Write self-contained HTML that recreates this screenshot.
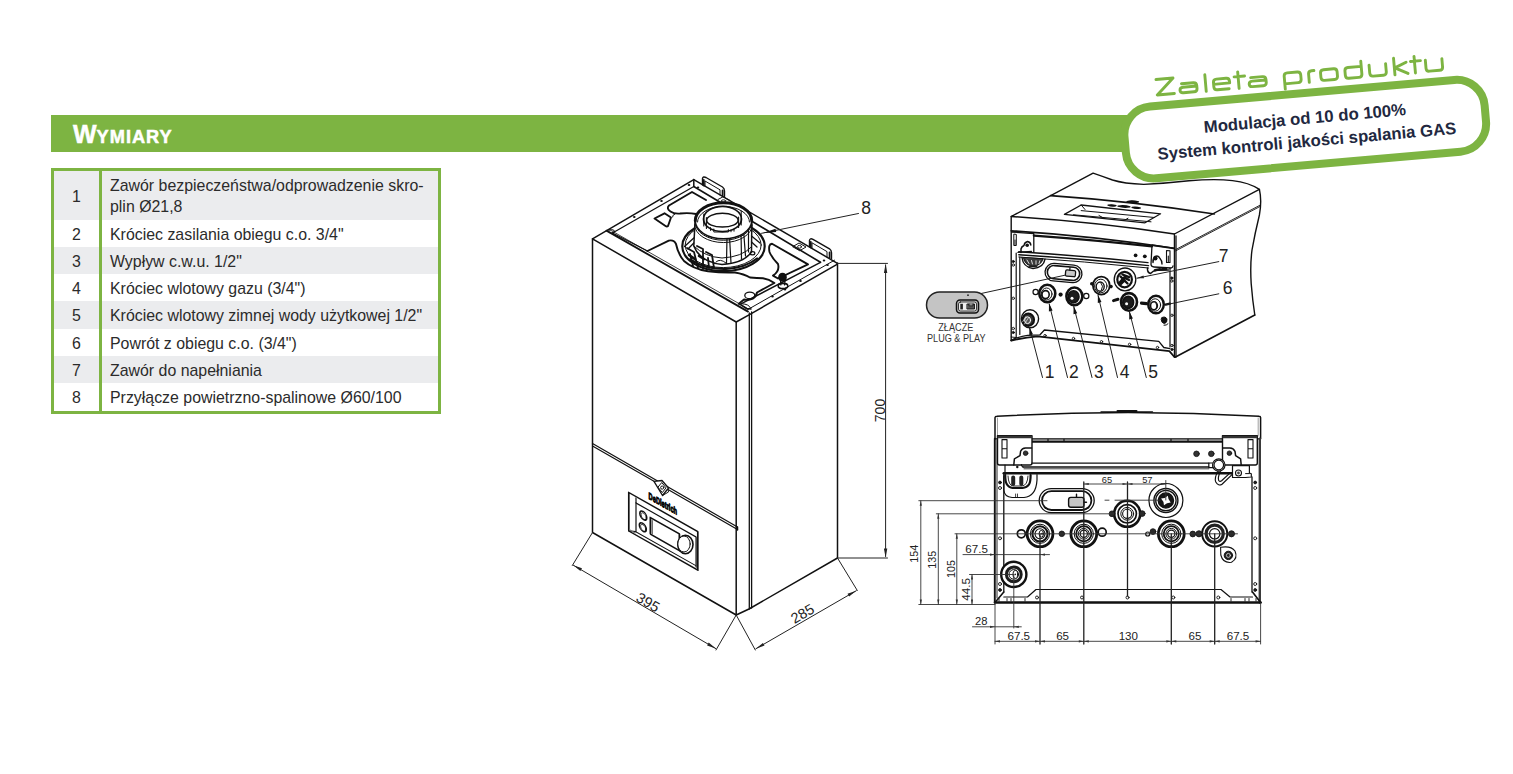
<!DOCTYPE html>
<html><head><meta charset="utf-8">
<style>
html,body{margin:0;padding:0;background:#fff;}
body{width:1513px;height:774px;position:relative;overflow:hidden;font-family:"Liberation Sans",sans-serif;}
#bar{position:absolute;left:51px;top:114.5px;width:1090px;height:37.7px;background:#7db442;}
#title{position:absolute;left:73px;top:114.5px;height:38px;line-height:38px;color:#fff;font-weight:700;white-space:nowrap;-webkit-text-stroke:0.5px #fff;}
#title .b{font-size:25px;}
#title .s{font-size:18.2px;letter-spacing:1.0px;}
#tbl{position:absolute;left:51px;top:168px;width:390px;height:245.5px;box-sizing:border-box;border:3px solid #7db442;}
.row{position:absolute;left:0;width:384px;height:27.3px;}
.row.g{background:#ebecee;}
.row .n{position:absolute;left:0;width:45px;text-align:center;font-size:15.9px;color:#2b2b2b;top:1px;line-height:27.3px;}
.row .t{position:absolute;left:56px;top:1px;font-size:15.9px;color:#2b2b2b;line-height:27.3px;white-space:nowrap;}
#vd{position:absolute;left:45px;top:0;width:3px;height:239.5px;background:#7db442;}
svg{position:absolute;left:0;top:0;}
text{font-family:"Liberation Sans",sans-serif;}
</style></head><body>
<div id="bar"></div>
<div id="title"><span class="b">W</span><span class="s">YMIARY</span></div>
<div id="tbl">
 <div class="row g" style="top:0;height:48.5px"><div class="n" style="line-height:48.5px;top:1.5px">1</div><div class="t" style="line-height:21px;top:4px">Zawór bezpieczeństwa/odprowadzenie skro-<br>plin Ø21,8</div></div>
 <div class="row" style="top:48.5px"><div class="n">2</div><div class="t">Króciec zasilania obiegu c.o. 3/4"</div></div>
 <div class="row g" style="top:75.8px"><div class="n">3</div><div class="t">Wypływ c.w.u. 1/2"</div></div>
 <div class="row" style="top:103.1px"><div class="n">4</div><div class="t">Króciec wlotowy gazu (3/4")</div></div>
 <div class="row g" style="top:130.4px"><div class="n">5</div><div class="t">Króciec wlotowy zimnej wody użytkowej 1/2"</div></div>
 <div class="row" style="top:157.7px"><div class="n">6</div><div class="t">Powrót z obiegu c.o. (3/4")</div></div>
 <div class="row g" style="top:185px"><div class="n">7</div><div class="t">Zawór do napełniania</div></div>
 <div class="row" style="top:212.3px"><div class="n">8</div><div class="t">Przyłącze powietrzno-spalinowe Ø60/100</div></div>
 <div id="vd"></div>
</div>
<svg id="art" width="1513" height="774" viewBox="0 0 1513 774">
<!-- BANNER -->
<g id="banner" transform="translate(1306.5 129) rotate(-5)">
  <rect x="-182" y="-36" width="361.5" height="72" rx="28" ry="28" fill="#fff" stroke="#7db442" stroke-width="8"/>
  <text x="-0.7" y="-5.2" text-anchor="middle" font-size="16.75" font-weight="700" fill="#222840">Modulacja od 10 do 100%</text>
  <text x="-0.7" y="17.8" text-anchor="middle" font-size="16.75" font-weight="700" fill="#222840">System kontroli jakości spalania GAS</text>
</g>
<!-- ZALETA -->
<g id="zaleta" transform="translate(1156 96.4) rotate(-5)" fill="none" stroke="#7db442" stroke-width="2.9" stroke-linecap="round" stroke-linejoin="round"><path d="M1.45,-16.8 H18.55 L1.45,-1.3 H18.55 M26.45,-10.4 H38.349999999999994 Q41.55,-10.4 41.55,-7.2 V-4.5 Q41.55,-1.3 38.349999999999994,-1.3 H27.65 Q24.45,-1.3 24.45,-3.9000000000000004 Q24.45,-6.8 27.65,-6.8 H41.55 M50.5,-17.3 V-0.7000000000000001 M58.45,-7.0 H74.55 V-8.8 Q74.55,-12.0 71.35,-12.0 H61.650000000000006 Q58.45,-12.0 58.45,-8.8 V-4.5 Q58.45,-1.3 61.650000000000006,-1.3 H73.55 M83.5,-17.3 V-0.7000000000000001 M79.5,-12.6 H90 M95.95,-10.4 H107.85 Q111.05,-10.4 111.05,-7.2 V-4.5 Q111.05,-1.3 107.85,-1.3 H97.15 Q93.95,-1.3 93.95,-3.9000000000000004 Q93.95,-6.8 97.15,-6.8 H111.05 M129.45,4.0 V-8.8 Q129.45,-12.0 132.64999999999998,-12.0 H142.85000000000002 Q146.05,-12.0 146.05,-8.8 V-4.5 Q146.05,-1.3 142.85000000000002,-1.3 H129.45 M153.95,-0.7000000000000001 V-8.8 Q153.95,-12.0 157.14999999999998,-12.0 H159.55 M169.14999999999998,-12.0 H179.35000000000002 Q182.55,-12.0 182.55,-8.8 V-4.5 Q182.55,-1.3 179.35000000000002,-1.3 H169.14999999999998 Q165.95,-1.3 165.95,-4.5 V-8.8 Q165.95,-12.0 169.14999999999998,-12.0 Z M207.05,-17.3 V-4.5 Q207.05,-1.3 203.85000000000002,-1.3 H193.64999999999998 Q190.45,-1.3 190.45,-4.5 V-8.8 Q190.45,-12.0 193.64999999999998,-12.0 H207.05 M214.95,-12.6 V-4.5 Q214.95,-1.3 218.14999999999998,-1.3 H228.35000000000002 Q231.55,-1.3 231.55,-4.5 V-12.6 M239.95,-17.3 V-0.7000000000000001 M252.05,-12.3 L240.45,-7.6 L253.05,-0.9 M260.5,-17.3 V-0.7000000000000001 M256.5,-12.6 H266.5 M271.45,-12.6 V-4.5 Q271.45,-1.3 274.65,-1.3 H284.85 Q288.05,-1.3 288.05,-4.5 V-12.6"/></g>
<!-- ISO -->
<g id="iso" fill="none" stroke="#111" stroke-width="1.5" stroke-linecap="round" stroke-linejoin="round">
 <!-- main body -->
 <path d="M592.5,238.8 V532.5 L736.2,615 V322 Z"/>
 <path d="M736.2,615 L749,609 L837.5,558 V263"/>
 <path d="M749.3,313 V609 M751.6,312 V608" stroke-width="1.3"/>
 <!-- top outer edges -->
 <path d="M592.5,238.8 L693.8,179.6 L836.6,262.8"/>
 <path d="M736.2,322 L749.5,314.6 L836.6,264.6"/>
 <path d="M746.5,310.3 L834.5,260.2" stroke-width="1"/>
 <!-- cover top inner edge (double) -->
 <path d="M606.5,230.6 L748,311.6" stroke-width="1.8"/>
 <path d="M609.5,229.6 L748.5,309" stroke-width="0.8"/>
 <!-- back rail double -->
 <path d="M693.8,186.5 L820.5,262.3" stroke-width="1.6"/>
 <path d="M693.8,179.6 V186.5"/>
 <!-- left rail inner -->
 <path d="M606.5,230.6 L693.8,179.6" stroke-width="0"/>
 <path d="M612.5,233 L693.8,186.5" stroke-width="1.3"/>
 <!-- inner right flange line -->
 <path d="M740,304.4 L820.5,262.3" stroke-width="1.4"/>
 <path d="M740,304.4 L746.5,308.5 L751,309"/>
 <!-- plate cutouts : left/back outline -->
 <path d="M669,205.5 L692,192 L706,200 M669,205.5 Q666,208.5 670.5,211.5 Q674,214 680,213.5 Q689,212.5 696,214" stroke-width="1.9"/>
 <path d="M654.5,218.5 L664.5,213.3 L671,217.5 L668,226 Q667,227 665.5,226 Z" stroke-width="1.9"/>
 <path d="M672.5,217 Q672,215 675,214" stroke-width="1"/>
 <!-- front-left wavy outline -->
 <path d="M647.5,251 L668.8,240.6 Q674,239.5 676,244 Q678,254 684,261 Q693,269 708,271.3 Q722,273 735,272.5 Q744,274 750,277.5 Q757,278 763,278.2 Q769,279 774.4,283 L757,292.5 Q756.5,296 753,298.5 Q748,300.5 744,299.5 L738.8,303.8" stroke-width="1.9"/>
 <path d="M612.5,233 L647.5,251" stroke-width="1.3"/>
 <!-- right cutout -->
 <path d="M772,243.7 Q768,244 769.5,252 Q772,258 778,264 Q780,271 773,275.6 L778,278.5 L808,264.4 L772,243.7 Z" stroke-width="1.9"/>
 <path d="M761.5,233.5 L808,260" stroke-width="0"/>
 <!-- small ellipse hole -->
 <ellipse cx="749.8" cy="295.4" rx="5" ry="3.3" stroke-width="1.3"/>
 <!-- tab with hole on back rail -->
 <path d="M793,246.5 L799,243 L806,247 L800,250.5 Z" stroke-width="1"/>
 <ellipse cx="799.5" cy="246.8" rx="2" ry="1.4" stroke-width="0.9"/>
 <path d="M718,199.5 L723,196.8 L730,200.5" stroke-width="1"/>
 <ellipse cx="723.5" cy="201" rx="2.2" ry="1.2" stroke-width="0.9"/>
 <!-- brackets -->
 <g stroke-width="1.4">
  <path d="M702.5,185 V178.5 Q703,176 706,177.5 L722.5,187 Q724.5,188.5 724.5,191 V196.5"/>
  <path d="M705,186 V181 L720,189.8 V195" stroke-width="1"/>
  <path d="M703.8,180 V185.6 M722.6,190.5 V196" stroke-width="1.8"/>
  <path d="M809.5,246.8 V240.3 Q810,237.8 813,239.3 L829.5,248.8 Q831.5,250.3 831.5,252.8 V258.5"/>
  <path d="M812,247.8 V242.8 L827,251.6 V256.8" stroke-width="1"/>
  <path d="M810.8,241.8 V247.4 M829.6,252.3 V257.8" stroke-width="1.8"/>
 </g>
 <!-- screws -->
 <g fill="#111" stroke="none">
  <ellipse cx="634.3" cy="217" rx="1.3" ry="0.9"/><ellipse cx="661.5" cy="201" rx="1.3" ry="0.9"/><ellipse cx="689" cy="185" rx="1.3" ry="0.9"/><ellipse cx="698" cy="187.3" rx="1.3" ry="0.9"/>
  <ellipse cx="772.5" cy="296.5" rx="1.3" ry="0.9"/><ellipse cx="800.5" cy="281" rx="1.3" ry="0.9"/><ellipse cx="827.5" cy="265" rx="1.3" ry="0.9"/><ellipse cx="824" cy="260.5" rx="1.3" ry="0.9"/>
  <ellipse cx="785" cy="289.5" rx="1.3" ry="0.9"/>
 </g>
 <ellipse cx="611.5" cy="231.3" rx="3" ry="1.7" stroke-width="1"/>
 <path d="M742,303.8 Q749,304 750.5,308" stroke-width="1"/>
 <!-- flue -->
 <g>
  <ellipse cx="723.5" cy="246.2" rx="41.2" ry="25" stroke-width="2.2" fill="#fff"/><path d="M690,259.5 Q706,269.5 726,269 Q746,267.5 757,258.5" stroke-width="2.2"/>
  <ellipse cx="723.2" cy="245" rx="38" ry="22.6" stroke-width="1"/>
  <!-- body -->
  <path d="M695,222 L693.8,246 Q700,262 722,264.5 Q744,263 751.5,252 L751.8,222 Z" fill="#fff" stroke-width="1.5"/>
  <path d="M693.8,246 Q705,257 722,258 Q742,257 751.3,247" stroke-width="1"/>
  <path d="M727,236.5 L726.5,263.5 M729.5,236.5 L731,263 M741,231 L741.5,259 M743.5,230 L745.5,256 M748.5,226 L748.5,252" stroke-width="1.2"/>
  <path d="M751.5,236 L760,243 M751.5,242 L757,247 M693.8,238 L684.5,246.5 M693.8,243 L688,249" stroke-width="1.3"/>
  <ellipse cx="752.5" cy="253.3" rx="2.3" ry="1.6" stroke-width="1.3"/>
  <!-- top ring -->
  <ellipse cx="723.5" cy="220.8" rx="28.2" ry="18" stroke="none" fill="#fff"/>
  <path d="M695.3,220.8 A28.2,18 0 0 1 751.7,220.8" stroke-width="3"/>
  <path d="M695.3,220.8 A28.2,18 0 0 0 751.7,220.8" stroke-width="1.5"/>
  <path d="M695.2,222.6 A28.2,17.6 0 0 0 751.8,222.6 M694.6,224.8 A28.6,17.6 0 0 0 752.3,224.8" stroke-width="1"/>
  <path d="M697.5,222 A26,15.6 0 0 1 749.5,222" stroke-width="1"/>
  <ellipse cx="722.5" cy="219" rx="19" ry="12.6" stroke-width="1.7"/>
  <ellipse cx="722.4" cy="220.2" rx="15.7" ry="6.9" stroke-width="1.5"/>
  <path d="M703.8,214 V226 M706.4,217.5 V228.5 M741.2,211 V225 M738.6,217 V227.5" stroke-width="1.1"/>
  <path d="M713.8,229 V232 H728.4 V229.6" stroke-width="1"/>
  <path d="M731,230 V231.8 M734,229.3 V231.2 M710.5,227.6 V230.4" stroke-width="1"/>
  <!-- clips bottom-left -->
  <g stroke-width="1.8">
   <path d="M687,248 L694,252 L698,268 M690,254 L693,266 M697,246 L703,249 L703,269 M706,252 L712,255 L714,268 M708,258 L709,268"/>
   <path d="M689,255 L695,259 M699,256 L704,259" stroke-width="2.5"/>
   <path d="M716,262 Q720,258 726,263" stroke-width="1"/>
  </g>
 </g>
 <!-- black valve -->
 <g>
  <ellipse cx="782.5" cy="277.3" rx="3.6" ry="3.8" fill="#111"/>
  <path d="M780.5,280 L780.8,285 M785,280 L784.6,285" stroke-width="1.2"/>
  <ellipse cx="783" cy="286" rx="4.8" ry="2.6" stroke-width="1.6"/>
 </g>
 <!-- front panel seam -->
 <path d="M592.5,443.5 L737.5,527" stroke-width="1.2"/>
 <path d="M592.5,446 L654,481.3 M668,489.5 L737.5,529.5" stroke-width="1.2"/>
 <path d="M737.5,527 V530"/>
 <!-- logo diamond -->
 <path d="M654,481.3 L662,480.5 L668.5,488 L662.5,495.5 Z" stroke-width="1.3" fill="#fff"/>
 <path d="M662,482.8 L666,487.8 L662.3,492.6 L658.2,487.5 Z" stroke-width="1"/>
 <circle cx="662.2" cy="487.6" r="1.6" stroke-width="1"/>
 <path d="M662.5,495.5 L668.5,492 L668,489.5" stroke-width="1"/>
 <!-- control panel: skewed coordinates -->
 <g transform="matrix(1 0.566 0 1 628.8 492.5)">
  <path d="M0,0 H69 V38.5 H0 Z" stroke-width="1.7"/>
  <path d="M7.2,1.5 V35.2 M0,38.5 L7.2,35.2 H66.8" stroke-width="1.2"/>
  <path d="M7.2,6.4 H67.3 V36.5" stroke-width="1.3"/>
  <path d="M1,37 H6" stroke="#777" stroke-width="1.4"/>
  <rect x="21.6" y="12.8" width="29" height="16.6" stroke-width="1.8"/>
  <path d="M23.4,14.6 V28" stroke-width="0.8"/>
  <ellipse cx="14.5" cy="14.9" rx="3.5" ry="4" stroke-width="1.5"/>
  <ellipse cx="14" cy="26.8" rx="3.5" ry="4" stroke-width="1.5"/>
  <ellipse cx="14.9" cy="15.3" rx="2.6" ry="3" stroke-width="0.7"/>
  <ellipse cx="14.4" cy="27.2" rx="2.6" ry="3" stroke-width="0.7"/>
  <text x="19.8" y="-4.9" font-size="9.6" font-weight="700" fill="#000" stroke="#000" stroke-width="0.9" textLength="28.5" lengthAdjust="spacingAndGlyphs">DeDietrich</text>
 </g>
 <ellipse cx="685.4" cy="544.6" rx="7.6" ry="9.2" stroke-width="1.6" fill="#fff"/>
 <ellipse cx="684" cy="544" rx="6.2" ry="8" stroke-width="1" fill="#fff"/>
 <!-- dimensions -->
 <g stroke="#222" stroke-width="1">
  <path d="M836.6,263.4 H887.5 M837.5,558 H887.5 M885.6,265 V556.5"/>
  <path d="M885.6,263.8 L883.9,273 H887.3 Z M885.6,557.6 L883.9,548.5 H887.3 Z" fill="#222" stroke="none"/>
  <path d="M592.5,532.5 L572.3,565.5 M736.2,615 L716,650"/>
  <path d="M573.3,565.2 L715.8,648.6"/>
  <path d="M573.3,565.2 L582,568.3 L580.4,571 Z M715.8,648.6 L708.7,642.6 L707.1,645.4 Z" fill="#222" stroke="none"/>
  <path d="M736.2,615 L755.3,650 M837.5,558 L857.3,590.5"/>
  <path d="M755.8,648.8 L856.3,590.7"/>
  <path d="M755.8,648.8 L762.9,642.9 L764.5,645.6 Z M856.3,590.7 L849.1,596.6 L847.5,593.8 Z" fill="#222" stroke="none"/>
 </g>
 <!-- leader 8 -->
 <path d="M858.5,213.5 L761.5,233.3" stroke="#222" stroke-width="1"/>
 <path d="M762.5,233.2 L775.5,228.8 L776.2,232 Z" fill="#111" stroke="none"/>
 <g fill="#222" stroke="none" font-size="14">
  <text x="866" y="213.6" font-size="17.5" text-anchor="middle">8</text>
  <text transform="translate(885.2 410.5) rotate(-90)" text-anchor="middle" font-size="14">700</text>
  <text transform="translate(645.5 606.6) rotate(30.3)" text-anchor="middle" font-size="14.5">395</text>
  <text transform="translate(805 618) rotate(-30)" text-anchor="middle" font-size="14.5">285</text>
 </g>
</g>

<!-- PERSP -->
<g id="persp" fill="none" stroke="#111" stroke-width="1.4" stroke-linecap="round" stroke-linejoin="round">
 <!-- top cover -->
 <path d="M1011.2,216.5 L1093.1,173.1 Q1103,176.5 1112.5,180 Q1124,183.6 1143.8,184.4 Q1165,183.5 1189,180.8 Q1215,178.5 1232.5,180.6 Q1249,182.5 1259.4,189.4 L1174.4,234 Q1095,222 1011.2,216.5 Z" fill="#fff"/>
 <path d="M1050.6,195.6 Q1130,201 1214.4,214" stroke-width="1.6"/>
 <!-- break line right -->
 <path d="M1259.4,189.4 Q1262,201 1259.4,215 Q1255,233 1252,250 Q1250,265 1251.2,283.8 Q1252.5,300 1254.8,315"/>
 <path d="M1254.8,315 L1175,357.2" stroke-width="1.6"/>
 <path d="M1175.6,249.6 L1260,205.2 M1175.6,250.9 L1260,206.5" stroke-width="0.9"/>
 <!-- front band -->
 <path d="M1011.2,216.5 V340.5"/>
 <path d="M1174.4,234 V357 M1176,236 V357" stroke-width="1.3"/>
 <path d="M1011.2,230.8 Q1095,236 1173.8,248.4" stroke-width="1.8"/>
 <!-- recess on top -->
 <path d="M1064.4,214.4 L1081.2,205 L1160.6,213.8 L1145,222.8 Z" stroke-width="1.3"/>
 <path d="M1073.5,214.8 L1151,221.8 M1081.2,210.6 L1154.5,217.5 M1081.2,205 L1085,209.5 M1099,215.5 L1103,217.8 M1128,218.2 L1125,220" stroke-width="1"/>
 <!-- logo blobs -->
 <path d="M1127,201.5 Q1132,200 1138.5,201.8 Q1132,203.6 1127,201.5 Z" fill="#111" stroke-width="1.2"/>
 <path d="M1108,205.2 Q1112,204.2 1116,205.6 Q1112,206.8 1108,205.2 Z M1118,206.2 Q1124,205 1130,206.8 Q1124,208 1118,206.2 Z M1132,207.4 Q1136,206.6 1140.5,208 Q1136,209.2 1132,207.4 Z" fill="#111" stroke-width="1.2"/>
 <!-- left hinge block -->
 <path d="M1011.8,232 L1033.8,233.6 V252.2 M1018,252.4 L1031.5,251.3" stroke-width="1.3"/>
 <path d="M1013.8,234.5 V245.5 H1016.3 V234.8 Z M1015,240 V245" stroke-width="1"/>
 <path d="M1021,252.5 V249 Q1021.5,246.5 1024,245.5 Q1024.5,242.3 1027.5,241.5 Q1030.5,242 1030.8,245" stroke-width="1.5"/>
 <circle cx="1027.2" cy="245.2" r="1.8" fill="#111" stroke="none"/>
 <!-- right hinge block -->
 <path d="M1152,245 L1173.8,248.2 M1152,245 L1151,264.5 Q1151.2,266.8 1154,267 L1171,268 Q1172.8,267.8 1173,266" stroke-width="1.3"/>
 <path d="M1166.5,250.5 V262.5 H1170 V250.8 Z M1168.3,256 V262" stroke-width="1.1"/>
 <circle cx="1155.3" cy="258.3" r="2.2" fill="#111" stroke="none"/>
 <path d="M1153,262.5 Q1152.5,259 1155,256.5 Q1158.5,255 1160,258.5 Q1162,260.5 1162,264" stroke-width="1.4"/>
 <!-- top bars -->
 <path d="M1033.8,235.6 Q1095,240 1152,246.4" stroke-width="2.2"/>
 <path d="M1018.8,251.8 Q1085,256 1148,262.6 M1018.8,254.8 Q1085,259 1148.5,265.6" stroke-width="1.4"/>
 <path d="M1018.8,257 Q1085,261.5 1148.5,268" stroke-width="1"/>
 <circle cx="1135.6" cy="255.3" r="1.9" fill="#111" stroke="none"/>
 <circle cx="1144.8" cy="256.3" r="1.9" fill="#111" stroke="none"/>
 <!-- frame verticals -->
 <path d="M1016.2,253 V337.5 M1019.8,257 V334.5" stroke-width="1.2"/>
 <path d="M1170,268 V347 " stroke-width="1.2"/>
 <!-- grille top-left -->
 <path d="M1022,257.5 Q1023,267 1033,268.5 Q1043.5,268 1045,259.2" stroke-width="1.4"/>
 <path d="M1023.5,258 Q1025,265.5 1033,266.3 Q1041,265.8 1043,259 Z" fill="#3a3a3a" stroke-width="1"/><path d="M1027,260 L1029,263.5 M1031.5,260.5 L1032.5,264 M1036,260.8 L1036,264.2 M1039.8,260.8 L1039,263.5" stroke="#eee" stroke-width="0.9"/>
 <path d="M1029,266.6 H1037" stroke-width="1"/>
 <!-- oval slot -->
 <g transform="translate(1063.5 273) rotate(5)">
  <rect x="-18.5" y="-8.8" width="37" height="17.6" rx="8.8" stroke-width="1.3"/>
  <rect x="-16.2" y="-6.6" width="32.4" height="13.2" rx="6.6" stroke-width="1.6"/>
  <rect x="2" y="-3.4" width="10" height="6.2" rx="1.4" fill="#c9c9c9" stroke-width="1.3"/>
  <path d="M6,-3.4 V-6" stroke-width="1.2"/>
 </g>
 <!-- connections -->
 <g id="pc">
  <!-- c7 -->
  <ellipse cx="1125" cy="279.4" rx="10.8" ry="11.4" stroke-width="1.3" fill="#fff"/>
  <ellipse cx="1124.6" cy="279.6" rx="7.3" ry="7.8" stroke-width="2.2"/>
  <path d="M1119.5,282.8 L1124,277.5 L1129,280 M1120.5,276.5 L1127.5,283.5 M1122.5,274.5 L1129,277.2 M1121,284 L1124,281" stroke-width="2.4"/>
  <!-- c4 -->
  <ellipse cx="1101.3" cy="285.6" rx="8.4" ry="9" stroke-width="1.8" fill="#fff"/>
  <ellipse cx="1100.8" cy="286" rx="6.2" ry="6.8" stroke-width="1"/>
  <ellipse cx="1100.2" cy="286.6" rx="4" ry="4.6" stroke-width="1.4"/>
  <path d="M1101,283 Q1104,286 1101.5,290" stroke-width="1"/>
  <circle cx="1091.8" cy="283.8" r="1.8" fill="#111" stroke="none"/><circle cx="1111" cy="286.6" r="1.8" fill="#111" stroke="none"/>
  <!-- c2 -->
  <ellipse cx="1047.3" cy="293.5" rx="8" ry="8.8" stroke-width="2.6" fill="#fff"/>
  <ellipse cx="1046.6" cy="294" rx="5.4" ry="6" stroke-width="1"/>
  <ellipse cx="1045.6" cy="294.6" rx="3.6" ry="4" stroke-width="1.6"/>
  <circle cx="1035.6" cy="292" r="2.6" stroke-width="1.2"/>
  <circle cx="1060.6" cy="294.6" r="2.1" fill="#111" stroke="none"/>
  <!-- c3 -->
  <ellipse cx="1074.4" cy="296.3" rx="8" ry="8.8" stroke-width="2.6" fill="#fff"/>
  <ellipse cx="1073.6" cy="296.8" rx="5.4" ry="6" stroke-width="1.6" fill="#1c1c1c"/>
  <circle cx="1072" cy="298.2" r="1.5" fill="#fff" stroke="none"/>
  <circle cx="1086.3" cy="296" r="2.6" stroke-width="1.2"/>
  <!-- c5 -->
  <ellipse cx="1129" cy="301.9" rx="8" ry="8.8" stroke-width="2.6" fill="#fff"/>
  <ellipse cx="1128.2" cy="302.4" rx="5.4" ry="6" stroke-width="1.6" fill="#1c1c1c"/>
  <circle cx="1126.6" cy="303.8" r="1.5" fill="#fff" stroke="none"/>
  <path d="M1113.5,300.6 L1118,299.3" stroke-width="3"/>
  <!-- c6 -->
  <ellipse cx="1156" cy="304.5" rx="7.8" ry="8.8" stroke-width="2.4" fill="#fff"/>
  <ellipse cx="1155.2" cy="305" rx="5.4" ry="6.2" stroke-width="1"/>
  <ellipse cx="1154" cy="305.8" rx="3.4" ry="4" stroke-width="1.5"/>
  <path d="M1156,303 Q1158,306 1156,309" stroke-width="1"/>
  <path d="M1141.5,303.2 L1146.5,303.6" stroke-width="3.2"/>
  <path d="M1165.5,304.6 L1170,303.6" stroke-width="2.4"/>
  <!-- c1 -->
  <ellipse cx="1030" cy="318.8" rx="8.6" ry="9" stroke-width="1.4" fill="#fff"/>
  <ellipse cx="1028.3" cy="319.8" rx="5.8" ry="6.2" stroke-width="2" fill="#333"/>
  <ellipse cx="1027.6" cy="320.2" rx="3" ry="3.4" stroke-width="1" stroke="#fff" fill="#555"/>
  <path d="M1022.8,321.5 L1026,316.5 M1024.5,324 L1028.6,317.6" stroke="#ddd" stroke-width="0.8"/>
  <!-- small item -->
  <path d="M1162,317.5 Q1165.5,316 1167,319 Q1167.5,322.5 1164.5,323.6 Q1161.5,323 1161.2,320 Z" fill="#111" stroke-width="1"/>
  <path d="M1164,325.3 Q1166.5,325.6 1168,323.8" stroke-width="1"/>
 </g>
 <!-- c7 lever -->
 <path d="M1147.5,268 Q1147,272.5 1150.5,273.5 Q1153,271 1156,270.3 L1168.5,270" stroke-width="1.5"/>
 <path d="M1155,270.3 L1160,269.3 M1162,269.3 L1166,269" stroke-width="2.6"/>
 <!-- screws -->
 <g stroke-width="0.9">
  <circle cx="1013.3" cy="261.5" r="1.1" fill="#111"/><circle cx="1013.3" cy="265" r="1.2"/>
  <circle cx="1013.3" cy="298.3" r="1.2"/><circle cx="1013.3" cy="328.5" r="1.2"/><circle cx="1013.3" cy="332.5" r="1.1" fill="#111"/>
  <circle cx="1171.8" cy="278" r="1.1" fill="#111"/><circle cx="1171.8" cy="281" r="1.2"/><circle cx="1172" cy="315.3" r="1.2"/><circle cx="1172" cy="345.5" r="1.2"/><circle cx="1172" cy="349.5" r="1.1" fill="#111"/>
  <circle cx="1045" cy="335.6" r="1.2"/><circle cx="1073.5" cy="338.5" r="1.2"/><circle cx="1101.5" cy="341.7" r="1.2"/><circle cx="1129.6" cy="344.4" r="1.2"/><circle cx="1157.5" cy="347.5" r="1.2"/>
 </g>
 <!-- bottom tray -->
 <path d="M1011.2,340.5 L1014,338.8 Q1022,336 1027.5,335.3 L1040,334.8 L1044.4,330 L1158.8,341.3 L1163.8,347.5 L1170,348.7" stroke-width="1.3"/>
 <path d="M1011.2,340.5 Q1025,337.5 1037.5,336.4 L1169.4,351.2 L1174.4,357" stroke-width="1.8"/>
 <path d="M1011.2,337 L1016.2,337.5" stroke-width="1"/>
 <!-- leaders -->
 <g stroke="#222" stroke-width="1">
  <path d="M1042.5,377.5 L1029.6,327.8 M1067.5,377.5 L1049.2,304 M1092,377.5 L1073.8,306.6 M1117.5,377.5 L1098.1,295.5 M1146.3,377.5 L1129.5,312"/>
  <path d="M1029.4,327 L1029.3,335.3 L1033,334.3 Z M1049,303.3 L1048.9,311.6 L1052.6,310.6 Z M1073.6,305.9 L1073.5,314.2 L1077.2,313.2 Z M1097.9,294.8 L1097.8,303.1 L1101.5,302.1 Z M1129.3,311.3 L1129.2,319.6 L1132.9,318.6 Z" fill="#111" stroke="none"/>
  <path d="M1218.8,261.6 L1137,278.2 M1218.8,293.8 L1166.5,304.6"/>
  <path d="M1136.5,278.3 L1143.5,275.6 L1144,278.2 Z" fill="#222" stroke="none"/>
  <path d="M977.5,294.3 L1065,275.2"/>
 </g>
 <g fill="#222" stroke="none" font-size="17.5" text-anchor="middle">
  <text x="1049.5" y="377.6">1</text><text x="1073.8" y="377.6">2</text><text x="1098.8" y="377.6">3</text><text x="1124.5" y="377.6">4</text><text x="1153" y="377.6">5</text>
  <text x="1227.5" y="293.6">6</text><text x="1223.5" y="261.9">7</text>
 </g>
 <!-- plug & play -->
 <rect x="926.5" y="292" width="61" height="26" rx="13" fill="#c4c4c4" stroke="#222" stroke-width="1.5"/>
 <rect x="956.5" y="300" width="22" height="13" rx="3.5" fill="#c4c4c4" stroke="#111" stroke-width="1.5"/>
 <rect x="958.5" y="302" width="18" height="9" rx="2" fill="#eee" stroke="#111" stroke-width="0.8"/>
 <rect x="960.3" y="303.8" width="2.6" height="5.6" fill="#222" stroke="none"/>
 <path d="M967.3,304 H974.5 V309 H967.3 Z M969,304 V305.8 H973 V304" fill="#555" stroke="#111" stroke-width="0.9"/>
 <circle cx="968" cy="295.2" r="0.9" fill="#222" stroke="none"/>
 <g fill="#333" stroke="none" font-size="10.6" text-anchor="middle">
  <text x="955.8" y="331.4" textLength="35" lengthAdjust="spacingAndGlyphs">ZŁĄCZE</text>
  <text x="956.3" y="342.2" textLength="58.5" lengthAdjust="spacingAndGlyphs">PLUG &amp; PLAY</text>
 </g>
</g>

<!-- BOTTOM -->
<g id="bottom" fill="none" stroke="#111" stroke-width="1.4" stroke-linecap="round" stroke-linejoin="round">
 <!-- cover -->
 <path d="M995,438.8 V417.5 Q995.2,416.2 997,416.2 Q1128,409 1259,416.2 Q1260.6,416.2 1260.6,417.5 V438.8" stroke-width="1.5"/>
 <path d="M1101,411.8 H1152.5" stroke-width="1.3"/><path d="M1117.5,410.9 H1136.5" stroke-width="2"/>
 <path d="M995,438.8 H1260.6" stroke-width="1.2"/>
 <path d="M997.5,418 V436 M1258.2,418 V436" stroke="#888" stroke-width="0.8"/>
 <!-- outer body -->
 <path d="M994.8,438.8 V602.5" stroke-width="1.9"/><path d="M1259.8,438.8 V602.5" stroke="#3a3a3a" stroke-width="2.4"/>
 <path d="M997,440 V598" stroke-width="0.9"/>
 <path d="M995,602.5 H1260.6" stroke-width="2.6"/>
 <path d="M995,602.5 L1003.8,592 M1260.6,602.5 L1252.5,592" stroke-width="1.6"/>
 <!-- hinge blocks -->
 <path d="M1032,438.8 H1222.5" stroke="#444" stroke-width="1"/>
 <path d="M1032,441.6 H1222.5" stroke-width="2.4"/>
 <path d="M1048,439.3 V441 M1064,439.3 V441 M1171,439.3 V441 M1188,439.3 V441" stroke-width="1.2"/>
 <path d="M997.5,435.8 H1032 V463 Q1032,465 1030,465 H999.5 Q997.5,465 997.5,463 Z" fill="#fff" stroke-width="1.4"/>
 <path d="M1222.5,435.8 H1257.3 V463 Q1257.3,465 1255.3,465 H1224.5 Q1222.5,465 1222.5,463 Z" fill="#fff" stroke-width="1.4"/>
 <path d="M997.5,437 H1032 M1222.5,437 H1257.3" stroke="#333" stroke-width="2.6" stroke-linecap="butt"/>
 <path d="M1002,439.6 H1007 V458 H1002 Z M1002,448.8 H1007 M1248,439.6 H1253 V458 H1248 Z M1248,448.8 H1253" stroke-width="1.1"/>
 <path d="M1013.8,465 L1014.4,458.8 L1020,455.6 L1020.6,451.3 Q1022,448.3 1025.5,448 H1031.5" stroke-width="1.5"/>
 <path d="M1241.2,465 L1240.6,458.8 L1235.6,455.6 L1235,451.3 Q1233.5,448.3 1230,448 H1223" stroke-width="1.5"/>
 <circle cx="1025.6" cy="453.2" r="2.3" fill="#333" stroke-width="0.8"/><circle cx="1229.4" cy="453.2" r="2.3" fill="#333" stroke-width="0.8"/>
 <circle cx="1196.5" cy="453.8" r="2.8" fill="#333" stroke-width="0.8"/><circle cx="1211.3" cy="453.8" r="2.8" fill="#333" stroke-width="0.8"/>
 <!-- bar -->
 <path d="M1032,463.2 H1208.8 M1023,467 H1208.8" stroke-width="1.3"/>
 <path d="M1024,468.8 H1208.8" stroke-width="0.8"/>
 <path d="M1023,467 Q1021,466 1021.5,464.5" stroke-width="1.2"/>
 <path d="M1208.8,463 H1213 V467.6 H1208.8 Z" stroke-width="1.2"/>
 <circle cx="1017.3" cy="467" r="1.2" fill="#111" stroke="none"/>
 <path d="M1003.8,473.2 H1232.5" stroke-width="2.6"/>
 <path d="M1005,465 V473" stroke-width="1.2"/>
 <path d="M1003.8,473.3 V592 M1252,477 V592" stroke-width="1.3"/>
 <!-- lever right -->
 <circle cx="1218.8" cy="465" r="6.2" stroke-width="1.2" fill="#fff"/>
 <circle cx="1218.8" cy="465" r="4.8" stroke-width="1.2" fill="#fff"/>
 <path d="M1218,471.2 Q1214,478 1215.8,482 Q1218.5,486.5 1222,484.2 L1232,474.6 M1220.4,471 Q1217.4,478 1218.8,480.6 Q1220,482 1221.6,480.8 L1229.6,473.4" stroke-width="1.2"/>
 <path d="M1232.5,465.6 H1249.4 V473 L1251.3,473.8 V477 L1245.6,477.5 H1232.5 Z" stroke-width="1.2" fill="#fff"/>
 <path d="M1245.6,473.6 H1249.4" stroke-width="1"/>
 <circle cx="1238.5" cy="473" r="3" stroke-width="1.1" fill="#fff"/><circle cx="1238.5" cy="473" r="1.4" fill="#444" stroke="none"/>
 <!-- grille top-left -->
 <path d="M1003.8,476 V490 Q1004.5,497 1012,497.5 H1024 Q1036,496.5 1037,480 V474.5" stroke-width="1.2"/>
 <path d="M1005.2,475 Q1005.2,482 1007,484.5 Q1009,487.6 1012.5,488 H1022.5 Q1027,487.6 1029,484.5 Q1030.6,482 1030.6,475" stroke-width="2.2"/>
 <path d="M1008,476 Q1008.5,485.5 1013,486 H1022 Q1027.5,485.5 1028,476" stroke-width="0.9"/>
 <path d="M1013.2,477.5 V484 M1021.3,477.5 V484" stroke-width="4" stroke="#222"/>
 <path d="M1015.6,494 V497.3 M1017.5,494 V497.3" stroke-width="0.8"/>
 <!-- oval slot -->
 <rect x="1039.2" y="488.6" width="55" height="24" rx="12" stroke-width="1.3"/>
 <rect x="1042" y="491.2" width="49.4" height="18.8" rx="9.4" stroke-width="1.8"/>
 <rect x="1068.6" y="497.4" width="15.4" height="9.8" rx="2.2" fill="#c6c6c6" stroke-width="1.4"/>
 <path d="M1076.5,497.4 V494.3 M1084,502.3 H1086.5" stroke-width="1.4"/>
 <!-- connections -->
 <g id="bc">
  <!-- c7 -->
  <circle cx="1165.9" cy="500.5" r="17" stroke-width="1.2" fill="#fff"/>
  <circle cx="1165.9" cy="500.5" r="12" stroke-width="1.4"/>
  <circle cx="1165.9" cy="500.5" r="10.2" stroke-width="1.3"/>
  <circle cx="1165.9" cy="500.5" r="7.6" stroke-width="1.4" fill="#161616"/>
  <path d="M1165.9,495.3 Q1167.4,499 1171.1,500.5 Q1167.4,502 1165.9,505.7 Q1164.4,502 1160.7,500.5 Q1164.4,499 1165.9,495.3 Z" fill="#fff" stroke="none" transform="rotate(22 1165.9 500.5)"/>
  <!-- c4 -->
  <circle cx="1127.2" cy="513.8" r="13" stroke-width="2.6" fill="#fff"/>
  <circle cx="1127.2" cy="513.8" r="9.2" stroke-width="1.7"/>
  <circle cx="1127.2" cy="513.8" r="6.4" stroke-width="1"/>
  <circle cx="1127.2" cy="513.8" r="4.6" stroke-width="1.1"/>
  <circle cx="1112" cy="513.8" r="2.9" fill="#2a2a2a" stroke-width="0.8"/><circle cx="1142.2" cy="513.6" r="2.9" fill="#2a2a2a" stroke-width="0.8"/>
  <!-- row -->
  <g>
   <circle cx="1040" cy="533.8" r="12.9" stroke-width="2.8" fill="#fff"/>
   <circle cx="1040" cy="533.8" r="9.6" stroke-width="1"/>
   <circle cx="1040" cy="533.8" r="7.6" stroke-width="2"/>
   <circle cx="1040" cy="533.8" r="5" stroke-width="1.1"/>
   <ellipse cx="1041.3" cy="533.8" rx="2.2" ry="3.4" stroke-width="1"/>
   <circle cx="1042" cy="533.8" r="1" fill="#222" stroke="none"/>
  </g>
  <g>
   <circle cx="1083.8" cy="533.8" r="12.9" stroke-width="2.8" fill="#fff"/>
   <circle cx="1083.8" cy="533.8" r="9.6" stroke-width="1"/>
   <circle cx="1083.8" cy="533.8" r="7.6" stroke-width="1.8"/>
   <circle cx="1083.8" cy="533.8" r="5.4" stroke-width="1"/>
   <circle cx="1083.8" cy="533.8" r="3.6" stroke-width="1.2"/>
  </g>
  <g>
   <circle cx="1171.3" cy="533.8" r="12.9" stroke-width="2.8" fill="#fff"/>
   <circle cx="1171.3" cy="533.8" r="9.6" stroke-width="1"/>
   <circle cx="1171.3" cy="533.8" r="7.6" stroke-width="1.8"/>
   <circle cx="1171.3" cy="533.8" r="5.4" stroke-width="1"/>
   <circle cx="1171.3" cy="533.8" r="3.6" stroke-width="1.2"/>
  </g>
  <g>
   <circle cx="1214.7" cy="533.8" r="12.6" stroke-width="2" fill="#fff"/>
   <circle cx="1214.7" cy="533.8" r="8.6" stroke-width="3.2" stroke="#222"/>
   <circle cx="1214.7" cy="533.8" r="5.2" stroke-width="1.2"/>
  </g>
  <g>
   <circle cx="1013.8" cy="574.4" r="12.6" stroke-width="2.4" fill="#fff"/>
   <circle cx="1013.8" cy="574.4" r="7.4" stroke-width="3" stroke="#1c1c1c"/>
   <circle cx="1013.8" cy="574.4" r="4.8" stroke-width="1"/>
   <ellipse cx="1015.3" cy="574.4" rx="2.4" ry="4" stroke-width="1" fill="#fff"/>
   <circle cx="1015.3" cy="574.4" r="0.8" fill="#222" stroke="none"/>
  </g>
  <circle cx="1021.3" cy="533.8" r="4" stroke-width="1.7"/>
  <circle cx="1102.2" cy="532.2" r="4" stroke-width="1.7"/>
  <circle cx="1061.8" cy="533.8" r="2.8" fill="#2a2a2a" stroke-width="0.8"/>
  <circle cx="1147.7" cy="534" r="2" stroke-width="1.2"/>
  <circle cx="1153" cy="531.6" r="2.9" fill="#2a2a2a" stroke-width="0.8"/>
  <circle cx="1192.8" cy="534" r="2.9" fill="#2a2a2a" stroke-width="0.8"/><circle cx="1199" cy="533.8" r="3.1" fill="#2a2a2a" stroke-width="0.8"/>
  <circle cx="1231.5" cy="533.8" r="3.1" fill="#2a2a2a" stroke-width="0.8"/>
  <!-- teardrop -->
  <path d="M1220.6,547.3 Q1231,545.5 1235,551 Q1238.2,558.5 1231.5,562.3 Q1223,563.5 1220.8,555 Z" stroke-width="1.1"/>
  <circle cx="1228.4" cy="555.4" r="4.2" fill="#222" stroke-width="1"/>
  <circle cx="1228.4" cy="555.4" r="2" fill="#222" stroke="#ddd" stroke-width="0.8"/>
 </g>
 <!-- tray -->
 <path d="M1003.8,597 H1027.5 L1036,589.5 H1221 L1230,597 H1252.5" stroke-width="1.2"/>
 <path d="M999,598.5 V601 M1007,598.5 V601 M1011,598.5 V601 M1025,598.5 V601 M1231,598.5 V601 M1245,598.5 V601 M1249,598.5 V601 M1256,598.5 V601" stroke-width="0.9"/>
 <g stroke-width="0.9">
  <circle cx="1037" cy="597.5" r="1.5"/><circle cx="1082" cy="597.5" r="1.5"/><circle cx="1127.5" cy="597.5" r="1.5"/><circle cx="1173.3" cy="597.5" r="1.5"/><circle cx="1218.3" cy="597.5" r="1.5"/>
  <circle cx="1000" cy="482.5" r="1.4" fill="#222"/><circle cx="1000" cy="488" r="1.5"/><circle cx="1000" cy="538.3" r="1.5"/><circle cx="1000" cy="584" r="1.5"/><circle cx="1000" cy="590" r="1.4" fill="#222"/>
  <circle cx="1255.2" cy="482.5" r="1.4" fill="#222"/><circle cx="1255.2" cy="488" r="1.5"/><circle cx="1255.2" cy="538.3" r="1.5"/><circle cx="1255.2" cy="584" r="1.5"/><circle cx="1255.2" cy="590" r="1.4" fill="#222"/>
 </g>
 <!-- dimension lines -->
 <g stroke="#333" stroke-width="0.9">
  <path d="M1083.8,482 V644 M1127.5,482 V596" stroke="#222" stroke-width="1.3"/><path d="M1165.8,480.5 V500"/>
  <path d="M1083.8,484 H1165.8"/>
  <path d="M1105,500.2 H1109 M1115,500.2 H1160" />
  <path d="M918.8,500.7 H1047 M936.3,513.8 H1114 M955,533.8 H1237.5 M969.5,574.5 H1013.8"/>
  <path d="M920.8,500.7 V604.5 M938.3,513.8 V604.5 M956.8,533.8 V604.5 M972,574.5 V604.5"/>
  <path d="M918.8,604.5 H995"/>
  <path d="M963,554.6 H1049.5 M995,603 V644 M1260.6,603 V644"/><path d="M1040,533.8 V644 M1171.3,533.8 V644 M1214.7,533.8 V644" stroke="#222" stroke-width="1.3"/>
  <path d="M1013.8,574.5 V628 M972.5,626.8 H1021.3"/>
  <path d="M995,641.3 H1260.6"/>
  <g fill="#333" stroke="none">
   <path d="M995,641.3 l5,-1.1 v2.2 Z M1040,641.3 l-5,-1.1 v2.2 Z M1040,641.3 l5,-1.1 v2.2 Z M1083.8,641.3 l-5,-1.1 v2.2 Z M1083.8,641.3 l5,-1.1 v2.2 Z M1171.3,641.3 l-5,-1.1 v2.2 Z M1171.3,641.3 l5,-1.1 v2.2 Z M1214.7,641.3 l-5,-1.1 v2.2 Z M1214.7,641.3 l5,-1.1 v2.2 Z M1260.6,641.3 l-5,-1.1 v2.2 Z"/>
   <path d="M1083.8,484 l5,-1.1 v2.2 Z M1127.5,484 l-5,-1.1 v2.2 Z M1127.5,484 l5,-1.1 v2.2 Z M1165.8,484 l-5,-1.1 v2.2 Z"/>
   <path d="M920.8,500.7 l-1.1,5 h2.2 Z M920.8,604.5 l-1.1,-5 h2.2 Z M938.3,513.8 l-1.1,5 h2.2 Z M938.3,604.5 l-1.1,-5 h2.2 Z M956.8,533.8 l-1.1,5 h2.2 Z M956.8,604.5 l-1.1,-5 h2.2 Z M972,574.5 l-1.1,5 h2.2 Z M972,604.5 l-1.1,-5 h2.2 Z"/>
   <path d="M995,554.6 l-5,-1.1 v2.2 Z M1040,554.6 l5,-1.1 v2.2 Z M995,626.8 l-5,-1.1 v2.2 Z M1013.8,626.8 l5,-1.1 v2.2 Z"/>
  </g>
 </g>
 <g fill="#222" stroke="none" font-size="11.6" text-anchor="middle">
  <text x="1018.8" y="639.8">67.5</text><text x="1062.6" y="639.8">65</text><text x="1128.3" y="639.8">130</text><text x="1195" y="639.8">65</text><text x="1238" y="639.8">67.5</text>
  <text x="981.3" y="625.2" font-size="11.2">28</text>
  <text x="976.6" y="553.2">67.5</text>
  <text x="1107" y="483.2" font-size="9.3">65</text><text x="1147.3" y="483.2" font-size="9.3">57</text>
  <text transform="translate(918.2 553.8) rotate(-90)" font-size="10.8">154</text>
  <text transform="translate(936.3 559.7) rotate(-90)" font-size="10.8">135</text>
  <text transform="translate(954.5 569) rotate(-90)" font-size="10.8">105</text>
  <text transform="translate(970 589.4) rotate(-90)">44.5</text>
 </g>
</g>

</svg>
</body></html>
